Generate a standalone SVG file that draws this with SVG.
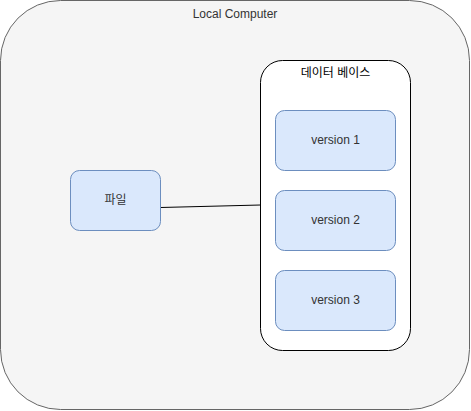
<svg xmlns="http://www.w3.org/2000/svg" width="471" height="411" viewBox="0 0 471 411">
<style>
text{font-family:"Liberation Sans","Noto Sans CJK KR",sans-serif;font-size:12px;text-anchor:middle;dominant-baseline:central}
.ver{fill:#dae8fc;stroke:#6c8ebf;stroke-width:1}
</style>
<g id="local">
<rect x="0.5" y="0.5" width="469" height="409" rx="60" ry="60" fill="#f5f5f5" stroke="#666666"/>
<text x="235" y="13.5" fill="#333333">Local Computer</text>
</g>
<g id="connectors">
<line x1="160.5" y1="207.5" x2="260.5" y2="205" stroke="#000000" stroke-width="1"/>
</g>
<g id="db">
<rect x="260.5" y="60.5" width="150" height="290" rx="22" ry="22" fill="#ffffff" stroke="#000000"/>
<text x="335.5" y="72.5" fill="#000000">데이터 베이스</text>
</g>
<g id="v1">
<rect class="ver" x="275.5" y="110.5" width="120" height="60" rx="9"/>
<text x="335.5" y="139.5" fill="#333333">version 1</text>
</g>
<g id="v2">
<rect class="ver" x="275.5" y="190.5" width="120" height="60" rx="9"/>
<text x="335.5" y="219.5" fill="#333333">version 2</text>
</g>
<g id="v3">
<rect class="ver" x="275.5" y="270.5" width="120" height="60" rx="9"/>
<text x="335.5" y="299.5" fill="#333333">version 3</text>
</g>
<g id="file">
<rect class="ver" x="70.5" y="170.5" width="90" height="60" rx="9"/>
<text x="115.5" y="199.5" fill="#333333">파일</text>
</g>
</svg>
